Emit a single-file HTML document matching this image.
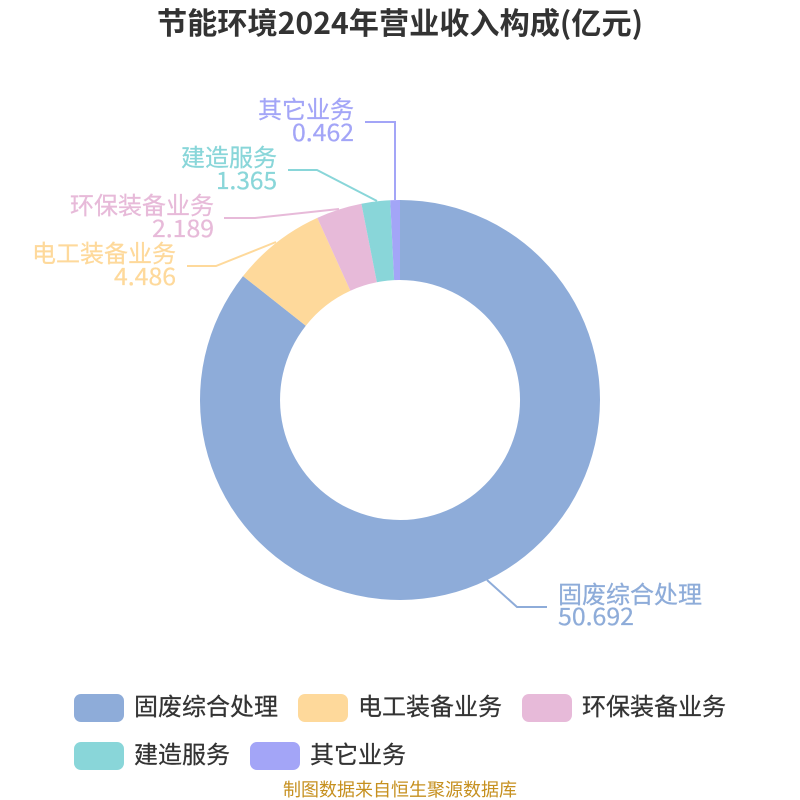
<!DOCTYPE html>
<html>
<head>
<meta charset="utf-8">
<style>
html,body{margin:0;padding:0;background:#fff;width:800px;height:800px;overflow:hidden}
svg{display:block}
text{font-family:"Noto Sans CJK SC","WenQuanYi Zen Hei",sans-serif}
.s{stroke-width:.25}
</style>
</head>
<body>
<svg width="800" height="800" viewBox="0 0 800 800" xmlns="http://www.w3.org/2000/svg">
<text x="157" y="34" font-size="30" font-weight="700" fill="#333333" textLength="486" lengthAdjust="spacingAndGlyphs">节能环境2024年营业收入构成(亿元)</text>

<path d="M400 200A200 200 0 1 1 243 276.1L305.8 325.7A120 120 0 1 0 400 280Z" fill="#8eacd9"/>
<path d="M243 276.1A200 200 0 0 1 317.3 217.9L350.4 290.7A120 120 0 0 0 305.8 325.7Z" fill="#fed99b"/>
<path d="M317.3 217.9A200 200 0 0 1 361.4 203.8L376.9 282.3A120 120 0 0 0 350.4 290.7Z" fill="#e7bad9"/>
<path d="M361.4 203.8A200 200 0 0 1 390.2 200.2L394.1 280.1A120 120 0 0 0 376.9 282.3Z" fill="#89d6d9"/>
<path d="M390.2 200.2A200 200 0 0 1 400 200L400 280A120 120 0 0 0 394.1 280.1Z" fill="#a3a5f7"/>

<g fill="none" stroke-width="2">
<polyline points="487,580 517,607 547,607" stroke="#8eacd9"/>
<polyline points="276,242 216,266 187,266" stroke="#fed99b"/>
<polyline points="339,209 255,218 224,218" stroke="#e7bad9"/>
<polyline points="377,201 317,170 288,170" stroke="#89d6d9"/>
<polyline points="395,200 395,122 365,122" stroke="#a3a5f7"/>
</g>

<g font-size="24" class="s">
<text x="558" y="603" fill="#8eacd9" stroke="#8eacd9">固废综合处理</text>
<text x="558" y="625" fill="#8eacd9" stroke="#8eacd9" textLength="76" lengthAdjust="spacingAndGlyphs">50.692</text>
<text x="176" y="262" text-anchor="end" fill="#fed99b" stroke="#fed99b">电工装备业务</text>
<text x="114" y="285" fill="#fed99b" stroke="#fed99b" textLength="62" lengthAdjust="spacingAndGlyphs">4.486</text>
<text x="214" y="214" text-anchor="end" fill="#e7bad9" stroke="#e7bad9">环保装备业务</text>
<text x="152" y="237" fill="#e7bad9" stroke="#e7bad9" textLength="62" lengthAdjust="spacingAndGlyphs">2.189</text>
<text x="277" y="166" text-anchor="end" fill="#89d6d9" stroke="#89d6d9">建造服务</text>
<text x="216" y="189" fill="#89d6d9" stroke="#89d6d9" textLength="61" lengthAdjust="spacingAndGlyphs">1.365</text>
<text x="354" y="118" text-anchor="end" fill="#a3a5f7" stroke="#a3a5f7">其它业务</text>
<text x="292" y="141" fill="#a3a5f7" stroke="#a3a5f7" textLength="62" lengthAdjust="spacingAndGlyphs">0.462</text>
</g>

<rect x="74" y="694" width="50" height="28" rx="7" fill="#8eacd9"/>
<rect x="298" y="694" width="50" height="28" rx="7" fill="#fed99b"/>
<rect x="522" y="694" width="50" height="28" rx="7" fill="#e7bad9"/>
<rect x="74" y="742" width="50" height="28" rx="7" fill="#89d6d9"/>
<rect x="250" y="742" width="50" height="28" rx="7" fill="#a3a5f7"/>

<g font-size="24" fill="#333333" stroke="#333333" class="s">
<text x="134" y="715">固废综合处理</text>
<text x="358" y="715">电工装备业务</text>
<text x="582" y="715">环保装备业务</text>
<text x="134" y="763">建造服务</text>
<text x="310" y="763">其它业务</text>
</g>

<text x="400" y="796" text-anchor="middle" font-size="18" fill="#c6901f">制图数据来自恒生聚源数据库</text>
</svg>
</body>
</html>
